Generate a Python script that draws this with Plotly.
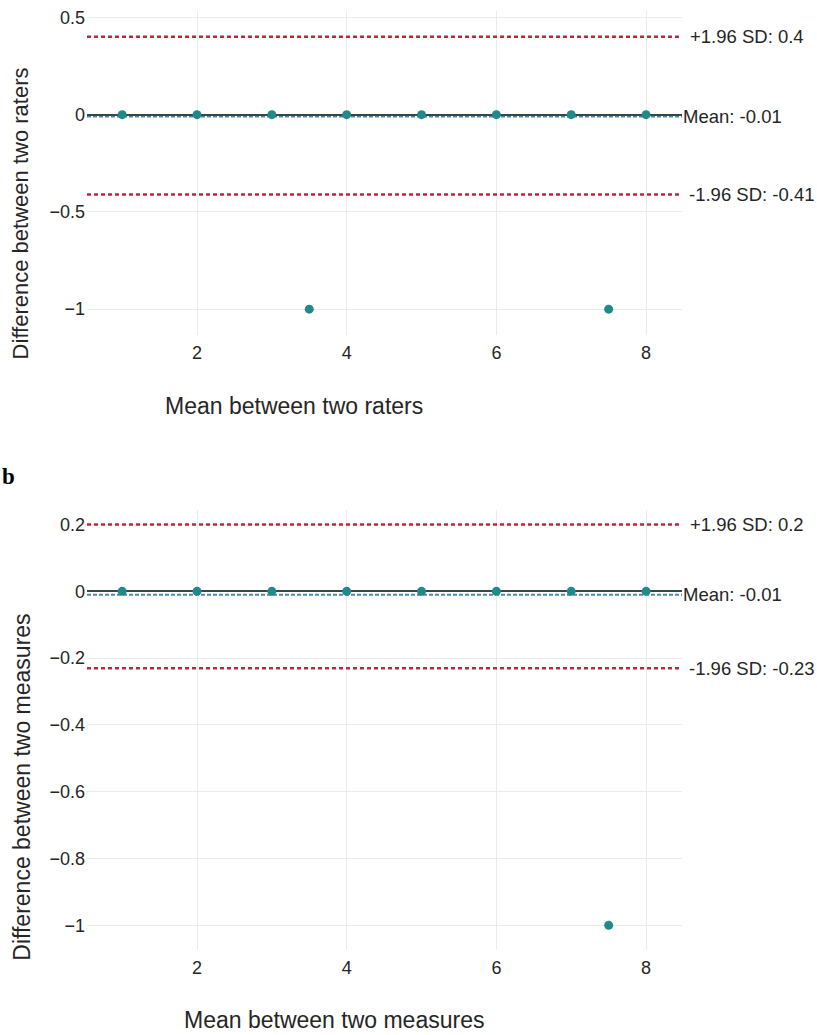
import plotly.graph_objects as go

# ---------------- data ----------------
mean_x_a = [1, 2, 3, 4, 5, 6, 7, 8, 3.5, 7.5]
diff_y_a = [0, 0, 0, 0, 0, 0, 0, 0, -1, -1]
bias_a, upper_a, lower_a = -0.01, 0.4, -0.41

mean_x_b = [1, 2, 3, 4, 5, 6, 7, 8, 7.5]
diff_y_b = [0, 0, 0, 0, 0, 0, 0, 0, -1]
bias_b, upper_b, lower_b = -0.01, 0.2, -0.23

x_ticks = [2, 4, 6, 8]
y_ticks_a = [0.5, 0, -0.5, -1]
y_ticks_b = [0.2, 0, -0.2, -0.4, -0.6, -0.8, -1]

label_upper_a = "+1.96 SD: 0.4"
label_mean_a = "Mean: -0.01"
label_lower_a = "-1.96 SD: -0.41"
label_upper_b = "+1.96 SD: 0.2"
label_mean_b = "Mean: -0.01"
label_lower_b = "-1.96 SD: -0.23"

# ---------------- style ----------------
W, H = 817, 1035
FONT = "Liberation Sans, Arial, sans-serif"
PT = "#21898a"
RED = "#c0273a"
BLUE = "#4f86b8"
GRID = "#ebebeb"
ZERO = "#34494a"
TXT = "#262626"

def px_x(p):
    return p / W

def px_y(p):
    return 1 - p / H

fig = go.Figure()

fig.add_trace(go.Scatter(x=mean_x_a, y=diff_y_a, mode="markers",
                         marker=dict(color=PT, size=9), xaxis="x", yaxis="y",
                         showlegend=False, cliponaxis=False))
fig.add_trace(go.Scatter(x=mean_x_b, y=diff_y_b, mode="markers",
                         marker=dict(color=PT, size=9), xaxis="x2", yaxis="y2",
                         showlegend=False, cliponaxis=False))

common_x = dict(range=[0.53, 8.48], tickvals=x_ticks, showgrid=True, gridcolor=GRID,
                gridwidth=1, zeroline=False, showline=False, ticks="",
                tickfont=dict(family=FONT, size=18, color=TXT), ticklabelstandoff=5)
common_y = dict(showgrid=True, gridcolor=GRID, gridwidth=1, zeroline=True,
                zerolinecolor=ZERO, zerolinewidth=1.5, showline=False, ticks="",
                tickfont=dict(family=FONT, size=18, color=TXT), ticklabelstandoff=1)

fig.update_layout(
    width=W, height=H,
    margin=dict(l=0, r=0, t=0, b=0),
    paper_bgcolor="white", plot_bgcolor="white",
    xaxis=dict(domain=[px_x(87), px_x(682)], anchor="y", **common_x),
    yaxis=dict(domain=[px_y(333), px_y(8)], anchor="x", range=[-1.133, 0.533],
               tickvals=y_ticks_a, **common_y),
    xaxis2=dict(domain=[px_x(87), px_x(682)], anchor="y2", **common_x),
    yaxis2=dict(domain=[px_y(950), px_y(508)], anchor="x2", range=[-1.0746, 0.245],
                tickvals=y_ticks_b, **common_y),
)

def hline(xref, yref, yval, color, dash, width, layer):
    fig.add_shape(type="line", xref=xref + " domain", yref=yref, x0=0, x1=1,
                  y0=yval, y1=yval, line=dict(color=color, dash=dash, width=width),
                  layer=layer)

for xr, yr, b, u, l in [("x", "y", bias_a, upper_a, lower_a),
                        ("x2", "y2", bias_b, upper_b, lower_b)]:
    hline(xr, yr, u, RED, "4px,3px", 2.5, "above")
    hline(xr, yr, l, RED, "4px,3px", 2.5, "above")
    hline(xr, yr, b, BLUE, "4px,2px", 2, "below")

def rlabel(xref, yref, yval, text, shift):
    fig.add_annotation(xref=xref + " domain", yref=yref, x=1, y=yval, text=text,
                       showarrow=False, xanchor="left", yanchor="middle", xshift=shift,
                       font=dict(family=FONT, size=18.5, color=TXT))

rlabel("x", "y", upper_a, label_upper_a, 6)
rlabel("x", "y", bias_a, label_mean_a, -1)
rlabel("x", "y", lower_a, label_lower_a, 5)
rlabel("x2", "y2", upper_b, label_upper_b, 6)
rlabel("x2", "y2", bias_b, label_mean_b, -1)
rlabel("x2", "y2", lower_b, label_lower_b, 5)

def ptext(x, y, text, size, angle=0, xanchor="center", family=FONT, color=TXT):
    fig.add_annotation(xref="paper", yref="paper", x=px_x(x), y=px_y(y), text=text,
                       showarrow=False, xanchor=xanchor, yanchor="middle",
                       textangle=angle, font=dict(family=family, size=size, color=color))

ptext(163, 404, "Mean between two raters", 23, xanchor="left")
ptext(182, 1020, "Mean between two measures", 23, xanchor="left")
ptext(20, 211, "Difference between two raters", 22, angle=-90)
ptext(22, 787, "Difference between two measures", 23, angle=-90)
ptext(0, 475, "<b>b</b>", 23, xanchor="left", family="Liberation Serif, Times New Roman, serif", color="#000")

fig.write_html("out.html", config={"displayModeBar": False},
               post_script="document.body.style.margin='0';")
